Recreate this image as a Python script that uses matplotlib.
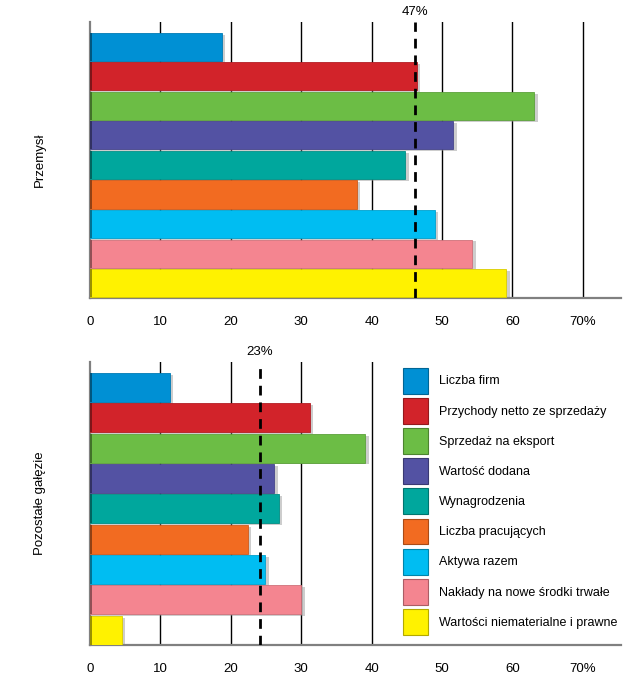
import matplotlib.pyplot as plt
import matplotlib.transforms as mtransforms
from matplotlib.patches import Patch
from matplotlib.colors import to_rgb

plt.rcParams['font.family'] = ['Liberation Sans', 'DejaVu Sans']

categories = ["Liczba firm", "Przychody netto ze sprzedaży", "Sprzedaż na eksport",
              "Wartość dodana", "Wynagrodzenia", "Liczba pracujących",
              "Aktywa razem", "Nakłady na nowe środki trwałe",
              "Wartości niematerialne i prawne"]
colors = ["#0090d4", "#d2232a", "#6cbd45", "#5352a3", "#00a79d",
          "#f26b21", "#00bdf2", "#f48590", "#fff200"]

przemysl = [18.7, 46.4, 63.1, 51.6, 44.8, 37.9, 49.0, 54.3, 59.1]
pozostale = [11.3, 31.2, 39.1, 26.2, 26.8, 22.4, 24.9, 30.0, 4.5]

ref_przemysl = 46.1
ref_przemysl_label = "47%"
ref_pozostale = 24.1
ref_pozostale_label = "23%"

xticks = [0, 10, 20, 30, 40, 50, 60, 70]
xtick_labels = ["0", "10", "20", "30", "40", "50", "60", "70%"]


def darker(c, f=0.6):
    r, g, b = to_rgb(c)
    return (r * f, g * f, b * f)


def panel(ax, values, ref, ref_label, title, grid):
    ypos = list(range(len(values)))
    for g in grid:
        ax.axvline(g, color='black', lw=1, zorder=1)
    # soft shadow behind bars
    ax.barh([y + 0.06 for y in ypos], [v + 0.5 for v in values], height=0.95,
            color='#909090', alpha=0.45, zorder=2, linewidth=0)
    ax.barh(ypos, values, height=0.95, color=colors, zorder=3,
            edgecolor=[darker(c, 0.85) for c in colors], linewidth=0.6)
    # darker left bevel
    ax.barh(ypos, [0.35] * len(values), height=0.95,
            color=[darker(c, 0.6) for c in colors], zorder=3, linewidth=0)
    ax.set_xlim(0, 75.4)
    ax.set_ylim(8.5, -0.85)
    ax.axvline(ref, color='black', lw=2, ls=(0, (3.5, 2.5)), zorder=5)
    trans = mtransforms.blended_transform_factory(ax.transData, ax.transAxes)
    ax.text(ref, 1.012, ref_label, transform=trans, ha='center', va='bottom',
            fontsize=9.5)
    ax.text(-0.094, 0.5, title, transform=ax.transAxes, rotation=90,
            ha='center', va='center', fontsize=9.5)
    ax.set_xticks(xticks)
    ax.set_xticklabels(xtick_labels, fontsize=9.5)
    ax.tick_params(axis='x', length=0, pad=13)
    ax.set_yticks([])
    for s in ['top', 'right']:
        ax.spines[s].set_visible(False)
    for s in ['left', 'bottom']:
        ax.spines[s].set_color('#808080')
        ax.spines[s].set_linewidth(1.6)


fig = plt.figure(figsize=(6.29, 6.80), dpi=100)
ax1 = fig.add_axes([0.143, 0.562, 0.844, 0.406])
ax2 = fig.add_axes([0.143, 0.051, 0.844, 0.417])

panel(ax1, przemysl, ref_przemysl, ref_przemysl_label, "Przemysł",
      [10, 20, 30, 40, 50, 60, 70])
panel(ax2, pozostale, ref_pozostale, ref_pozostale_label, "Pozostałe gałęzie",
      [10, 20, 30, 40])

handles = [Patch(facecolor=c, edgecolor=darker(c, 0.7), linewidth=0.8) for c in colors]
ax2.legend(handles, categories, loc='upper left', bbox_to_anchor=(0.589, 0.979),
           frameon=False, fontsize=9, handlelength=2.0, handleheight=2.8,
           labelspacing=0.35, handletextpad=0.9, borderaxespad=0, borderpad=0)

fig.savefig("out.png", dpi=100)
